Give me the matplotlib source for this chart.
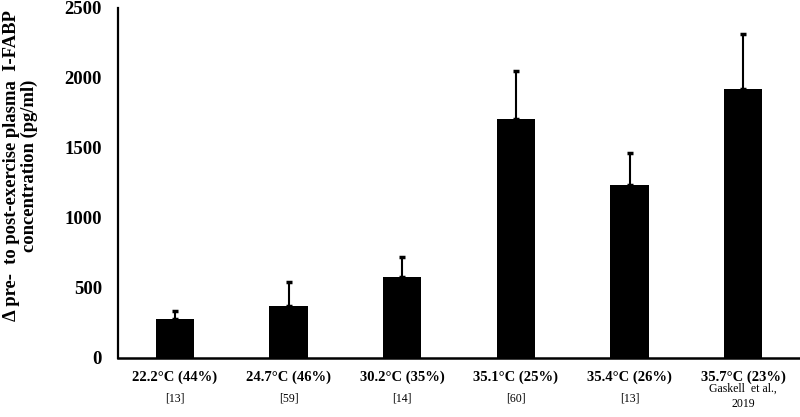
import matplotlib
matplotlib.use("Agg")
import matplotlib.pyplot as plt

conditions = ["22.2°C (44%)", "24.7°C (46%)", "30.2°C (35%)",
              "35.1°C (25%)", "35.4°C (26%)", "35.7°C (23%)"]
refs = ["[13]", "[59]", "[14]", "[60]", "[13]", "Gaskell  et al.,\n2019"]
means = [276, 374, 579, 1709, 1238, 1924]
sd = [62, 167, 142, 339, 224, 390]

plt.rcParams['font.family'] = ['Liberation Serif', 'DejaVu Serif']

fig = plt.figure(figsize=(8, 4.17), dpi=100)
ax = fig.add_axes([0.1475, 0.1415, 0.8525, 0.8395])

x = list(range(len(means)))
ax.bar(x, means, width=0.335, color='black')
ax.errorbar(x, means, yerr=[[0] * len(sd), sd], fmt='none', ecolor='black',
            elinewidth=1.5, capsize=2.5, capthick=2.5)

ax.set_xlim(-0.5, 5.5)
ax.set_ylim(0, 2500)
ax.set_yticks([0, 500, 1000, 1500, 2000, 2500])
ax.tick_params(axis='y', length=0, pad=11.5, labelsize=13.5)
for lab in ax.get_yticklabels():
    lab.set_fontweight('bold')
ax.set_xticks([])

for s in ['top', 'right']:
    ax.spines[s].set_visible(False)
ax.spines['left'].set_linewidth(1.6)
ax.spines['bottom'].set_linewidth(1.8)

for xi, cond, ref in zip(x, conditions, refs):
    ax.annotate(cond, (xi, 0), xycoords=('data', 'axes fraction'),
                xytext=(0, -13.7), textcoords='offset points',
                ha='center', va='center', fontsize=10.5, fontweight='bold')
    off = -27.5 if '\n' in ref else -29.5
    ax.annotate(ref, (xi, 0), xycoords=('data', 'axes fraction'),
                xytext=(0, off), textcoords='offset points',
                ha='center', va='center', fontsize=8.5, linespacing=1.3)

fig.text(0.0255, 0.602, "Δ pre-  to post-exercise plasma  I-FABP\nconcentration (pg/ml)",
         rotation=90, ha='center', va='center', fontsize=13.4,
         fontweight='bold', multialignment='center', linespacing=1.1)

fig.savefig("out.png", dpi=100)
